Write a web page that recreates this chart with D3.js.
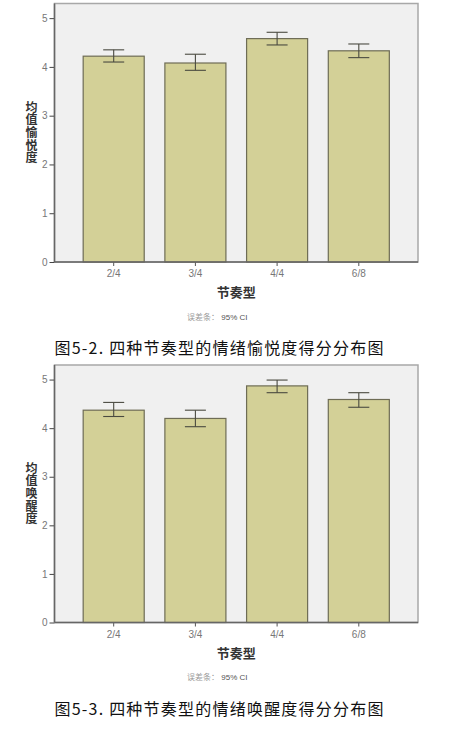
<!DOCTYPE html>
<html>
<head>
<meta charset="utf-8">
<script src="https://cdn.jsdelivr.net/npm/d3@7.9.0/dist/d3.min.js"></script>
<style>
  html, body { margin: 0; padding: 0; background: #fff; }
  svg { display: block; }
</style>
</head>
<body>
<svg id="chart" width="473" height="734"></svg>
<script>
const categories = ["2/4", "3/4", "4/4", "6/8"];
const yTicks = [0, 1, 2, 3, 4, 5];

const pleasureMeans = [4.22, 4.08, 4.58, 4.33];
const pleasureLow = [4.10, 3.93, 4.45, 4.19];
const pleasureHigh = [4.35, 4.26, 4.71, 4.47];

const arousalMeans = [4.37, 4.20, 4.87, 4.59];
const arousalLow = [4.24, 4.03, 4.73, 4.43];
const arousalHigh = [4.53, 4.37, 4.99, 4.73];

const xLabel = "节奏型";
const errNote = "误差条：";
const errNote2 = " 95% CI";

const svg = d3.select("#chart");

const left = 54.5;
const right = 418;

function drawChart(top, zero, yTitle, means, low, high, caption) {
  const g = svg.append("g");

  const x = d3.scaleBand()
    .domain(categories)
    .range([left, right])
    .paddingInner(0.253)
    .paddingOuter(0.351);

  const y = d3.scaleLinear()
    .domain([0, 5.3])
    .range([zero, top]);

  // plot background + frame
  g.append("rect")
    .attr("x", left)
    .attr("y", top)
    .attr("width", right - left)
    .attr("height", zero - top)
    .attr("fill", "#f0f0f0")
    .attr("stroke", "#a8a8a8")
    .attr("stroke-width", 1.5);

  const rows = categories.map((c, i) => ({ c: c, m: means[i], lo: low[i], hi: high[i] }));

  g.selectAll(".bar")
    .data(rows)
    .enter().append("rect")
    .attr("x", d => x(d.c))
    .attr("y", d => y(d.m))
    .attr("width", x.bandwidth())
    .attr("height", d => zero - y(d.m))
    .attr("fill", "#d3d097")
    .attr("stroke", "#6e6c55")
    .attr("stroke-width", 1.2);

  // error bars
  const cap = 10.5;
  const eb = g.selectAll(".err").data(rows).enter().append("g")
    .attr("stroke", "#4a4a40")
    .attr("stroke-width", 1.1);
  eb.append("line")
    .attr("x1", d => x(d.c) + x.bandwidth() / 2)
    .attr("x2", d => x(d.c) + x.bandwidth() / 2)
    .attr("y1", d => y(d.hi))
    .attr("y2", d => y(d.lo));
  eb.append("line")
    .attr("x1", d => x(d.c) + x.bandwidth() / 2 - cap)
    .attr("x2", d => x(d.c) + x.bandwidth() / 2 + cap)
    .attr("y1", d => y(d.hi))
    .attr("y2", d => y(d.hi));
  eb.append("line")
    .attr("x1", d => x(d.c) + x.bandwidth() / 2 - cap)
    .attr("x2", d => x(d.c) + x.bandwidth() / 2 + cap)
    .attr("y1", d => y(d.lo))
    .attr("y2", d => y(d.lo));

  // y axis
  const yAxis = g.append("g")
    .attr("transform", `translate(${left},0)`)
    .call(d3.axisLeft(y).tickValues(yTicks).tickFormat(d3.format("d"))
      .tickSize(5).tickPadding(2).tickSizeOuter(0));
  yAxis.select(".domain").remove();
  yAxis.selectAll("line").attr("stroke", "#444");
  yAxis.selectAll("text")
    .attr("fill", "#777")
    .style("font-family", "Liberation Sans, Arial, sans-serif")
    .style("font-size", "10px");
  g.append("line")
    .attr("x1", left).attr("x2", left)
    .attr("y1", top).attr("y2", zero)
    .attr("stroke", "#666").attr("stroke-width", 1.5);

  // x axis
  const xAxis = g.append("g")
    .attr("transform", `translate(0,${zero})`)
    .call(d3.axisBottom(x).tickSize(4).tickPadding(4).tickSizeOuter(0));
  xAxis.select(".domain").remove();
  xAxis.selectAll("line").attr("stroke", "#555");
  xAxis.selectAll("text")
    .attr("fill", "#777")
    .style("font-family", "Liberation Sans, Arial, sans-serif")
    .style("font-size", "10px");
  g.append("line")
    .attr("x1", left).attr("x2", right)
    .attr("y1", zero).attr("y2", zero)
    .attr("stroke", "#666").attr("stroke-width", 1.5);

  // y title, written top to bottom
  g.append("text")
    .attr("x", 31.5)
    .attr("y", (top + zero) / 2)
    .attr("text-anchor", "middle")
    .style("writing-mode", "vertical-rl")
    .style("letter-spacing", "0.6px")
    .style("font-family", "Noto Sans CJK SC, sans-serif")
    .style("font-size", "12px")
    .style("font-weight", "bold")
    .attr("fill", "#333")
    .text(yTitle);

  // x title
  g.append("text")
    .attr("x", (left + right) / 2)
    .attr("y", zero + 35)
    .attr("text-anchor", "middle")
    .style("font-family", "Noto Sans CJK SC, sans-serif")
    .style("font-size", "13px")
    .style("font-weight", "bold")
    .attr("fill", "#333")
    .text(xLabel);

  // error note
  const note = g.append("text")
    .attr("x", (left + right) / 2 - 19)
    .attr("y", zero + 57.5)
    .attr("text-anchor", "middle")
    .style("font-size", "8px");
  note.append("tspan")
    .style("font-family", "Noto Sans CJK SC, sans-serif")
    .attr("fill", "#999")
    .text(errNote);
  note.append("tspan")
    .style("font-family", "Liberation Sans, Arial, sans-serif")
    .attr("fill", "#555")
    .text(errNote2);

  // caption
  g.append("text")
    .attr("x", left)
    .attr("y", zero + 92)
    .attr("textLength", 329)
    .attr("lengthAdjust", "spacing")
    .style("font-family", "Noto Sans CJK SC, sans-serif")
    .style("font-size", "16px")
    .attr("fill", "#111")
    .text(caption);
}

drawChart(3.5, 262, "均值愉悦度", pleasureMeans, pleasureLow, pleasureHigh, "图5-2. 四种节奏型的情绪愉悦度得分分布图");
drawChart(365, 622.5, "均值唤醒度", arousalMeans, arousalLow, arousalHigh, "图5-3. 四种节奏型的情绪唤醒度得分分布图");
</script>
</body>
</html>
